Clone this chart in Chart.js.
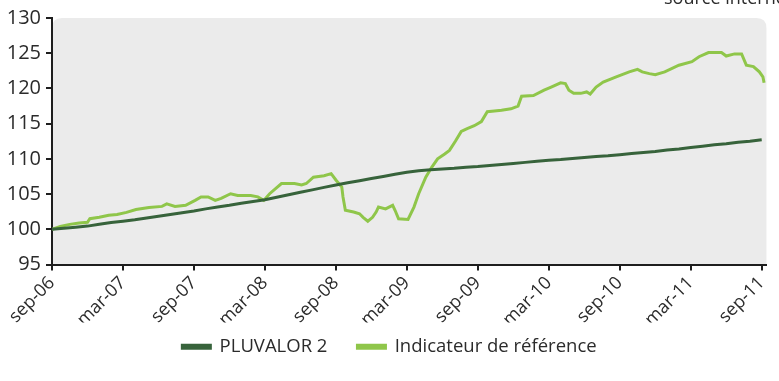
<!DOCTYPE html>
<html>
<head>
<meta charset="utf-8">
<script src="https://cdn.jsdelivr.net/npm/chart.js@4/dist/chart.umd.min.js"></script>
<style>
  html, body { margin: 0; padding: 0; background: #ffffff; }
  #wrap { width: 779px; height: 381px; position: relative; }
</style>
</head>
<body>
<div id="wrap"><canvas id="c" width="779" height="381"></canvas></div>
<script>
// Month offsets from sep-06 for the axis labels
const tickMonths = [0, 6, 12, 18, 24, 30, 36, 42, 48, 54, 60];
const tickLabels = ['sep-06', 'mar-07', 'sep-07', 'mar-08', 'sep-08', 'mar-09',
                    'sep-09', 'mar-10', 'sep-10', 'mar-11', 'sep-11'];

// PLUVALOR 2, one value per month (sep-06 .. sep-11)
const pluvalorValues = [
  100.0, 100.15, 100.3, 100.45, 100.7, 100.95, 101.15, 101.35, 101.6, 101.85,
  102.1, 102.35, 102.6, 102.9, 103.15, 103.4, 103.7, 103.95, 104.2, 104.55,
  104.9, 105.25, 105.6, 105.95, 106.3, 106.6, 106.9, 107.2, 107.5, 107.8,
  108.1, 108.3, 108.45, 108.55, 108.65, 108.8, 108.9, 109.05, 109.2, 109.35,
  109.5, 109.65, 109.8, 109.9, 110.05, 110.2, 110.35, 110.45, 110.6, 110.75,
  110.9, 111.05, 111.25, 111.4, 111.6, 111.8, 112.0, 112.15, 112.35, 112.5,
  112.7
];
const pluvalorMonths = pluvalorValues.map((_, i) => i);

// Indicateur de référence, month offset / value
const refMonths = [
  0, 0.7, 1.5, 2.3, 3.0, 3.2, 4.0, 4.8, 5.5, 6.3,
  7.1, 8.2, 9.3, 9.7, 10.4, 11.3, 12.1, 12.6, 13.2, 13.8,
  14.3, 15.1, 15.7, 16.8, 17.4, 17.9, 18.4, 19.4, 20.5, 21.1,
  21.5, 22.1, 23.0, 23.6, 24.0, 24.5, 24.6, 24.8, 25.5, 26.0,
  26.3, 26.7, 27.1, 27.4, 27.6, 28.2, 28.8, 29.0, 29.3, 30.1,
  30.6, 31.0, 31.6, 32.1, 32.6, 33.2, 33.6, 34.1, 34.6, 35.1,
  35.7, 36.3, 36.8, 37.4, 38.0, 38.8, 39.4, 39.7, 40.7, 41.6,
  42.2, 43.0, 43.4, 43.7, 44.1, 44.7, 45.2, 45.5, 46.0, 46.6,
  47.7, 48.8, 49.5, 49.9, 50.5, 51.0, 51.8, 53.0, 54.1, 54.7,
  55.5, 56.6, 57.0, 57.7, 58.3, 58.7, 59.3, 59.8, 60.1, 60.2
];
const refValues = [
  100.0, 100.4, 100.7, 100.9, 101.0, 101.5, 101.7, 102.0, 102.1, 102.4,
  102.8, 103.1, 103.25, 103.6, 103.25, 103.4, 104.1, 104.6, 104.6, 104.1,
  104.4, 105.05, 104.8, 104.8, 104.6, 104.1, 105.05, 106.5, 106.5, 106.3,
  106.5, 107.4, 107.6, 107.9, 107.0, 106.0, 104.6, 102.7, 102.45, 102.2,
  101.7, 101.15, 101.7, 102.45, 103.15, 102.9, 103.4, 102.7, 101.5, 101.4,
  103.15, 105.05, 107.4, 108.8, 110.0, 110.7, 111.2, 112.5, 113.9, 114.3,
  114.7, 115.3, 116.7, 116.8, 116.9, 117.1, 117.5, 118.9, 119.0, 119.75,
  120.2, 120.8, 120.7, 119.75, 119.3, 119.3, 119.5, 119.2, 120.2, 120.9,
  121.65, 122.35, 122.7, 122.35, 122.1, 121.95, 122.35, 123.3, 123.8, 124.5,
  125.1, 125.1, 124.6, 124.9, 124.9, 123.3, 123.1, 122.35, 121.65, 120.8
];

const FONT = "'Open Sans', 'DejaVu Sans', sans-serif";
const TEXT = '#2b2b2b';
const AXIS = '#1e1e1e';

// Grey plot panel with rounded top corners, plus the source note
const panelPlugin = {
  id: 'panel',
  afterLayout(chart) {
    // lift the legend row closer to the axis labels
    const lg = chart.legend;
    lg.top -= 15;
    lg.bottom -= 15;
    lg.left += 1;
    lg.right += 1;
  },
  beforeDraw(chart) {
    const { ctx, chartArea: a } = chart;
    const r = 10;
    ctx.save();
    ctx.fillStyle = '#ebebeb';
    ctx.beginPath();
    ctx.moveTo(a.left, a.bottom);
    ctx.lineTo(a.left, a.top + r);
    ctx.quadraticCurveTo(a.left, a.top, a.left + r, a.top);
    ctx.lineTo(a.right - r, a.top);
    ctx.quadraticCurveTo(a.right, a.top, a.right, a.top + r);
    ctx.lineTo(a.right, a.bottom);
    ctx.closePath();
    ctx.fill();
    ctx.restore();
  },
  afterDraw(chart) {
    const { ctx } = chart;
    ctx.save();
    ctx.font = "18px " + FONT;
    ctx.fillStyle = TEXT;
    ctx.textAlign = 'left';
    ctx.textBaseline = 'alphabetic';
    ctx.fillText('source interne', 664, 4);
    ctx.restore();
  }
};

new Chart(document.getElementById('c'), {
  type: 'line',
  data: {
    datasets: [
      {
        label: 'PLUVALOR 2',
        data: pluvalorMonths.map((m, i) => ({ x: m, y: pluvalorValues[i] })),
        borderColor: '#37633b',
        backgroundColor: '#37633b',
        borderWidth: 3,
        pointRadius: 0,
        tension: 0
      },
      {
        label: 'Indicateur de référence',
        data: refMonths.map((m, i) => ({ x: m, y: refValues[i] })),
        borderColor: '#8fc64a',
        backgroundColor: '#8fc64a',
        borderWidth: 3,
        pointRadius: 0,
        tension: 0
      }
    ]
  },
  options: {
    responsive: false,
    animation: false,
    layout: { padding: { top: 18, right: 2, left: 0, bottom: 0 } },
    plugins: {
      legend: {
        position: 'bottom',
        labels: {
          font: { family: FONT, size: 18.5 },
          color: TEXT,
          boxWidth: 28,
          boxHeight: 3,
          padding: 30
        }
      },
      tooltip: { enabled: false }
    },
    scales: {
      x: {
        type: 'linear',
        min: 0,
        max: 60.4,
        afterBuildTicks(scale) {
          scale.ticks = tickMonths.map(v => ({ value: v }));
        },
        afterFit(scale) { scale.height = 58; },
        ticks: {
          autoSkip: false,
          maxRotation: 45,
          minRotation: 45,
          padding: 2,
          font: { family: FONT, size: 18 },
          color: TEXT,
          callback(v) {
            const i = tickMonths.indexOf(v);
            return i >= 0 ? tickLabels[i] : '';
          }
        },
        grid: { display: true, drawOnChartArea: false, drawTicks: true, tickLength: 6, color: AXIS, lineWidth: 2 },
        border: { display: true, color: AXIS, width: 2 }
      },
      y: {
        min: 95,
        max: 130,
        afterFit(scale) { scale.width = 52; },
        ticks: {
          stepSize: 5,
          padding: 5,
          font: { family: FONT, size: 20 },
          color: TEXT
        },
        grid: { display: true, drawOnChartArea: false, drawTicks: true, tickLength: 6, color: AXIS, lineWidth: 2 },
        border: { display: true, color: AXIS, width: 2 }
      }
    }
  },
  plugins: [panelPlugin]
});
</script>
</body>
</html>
